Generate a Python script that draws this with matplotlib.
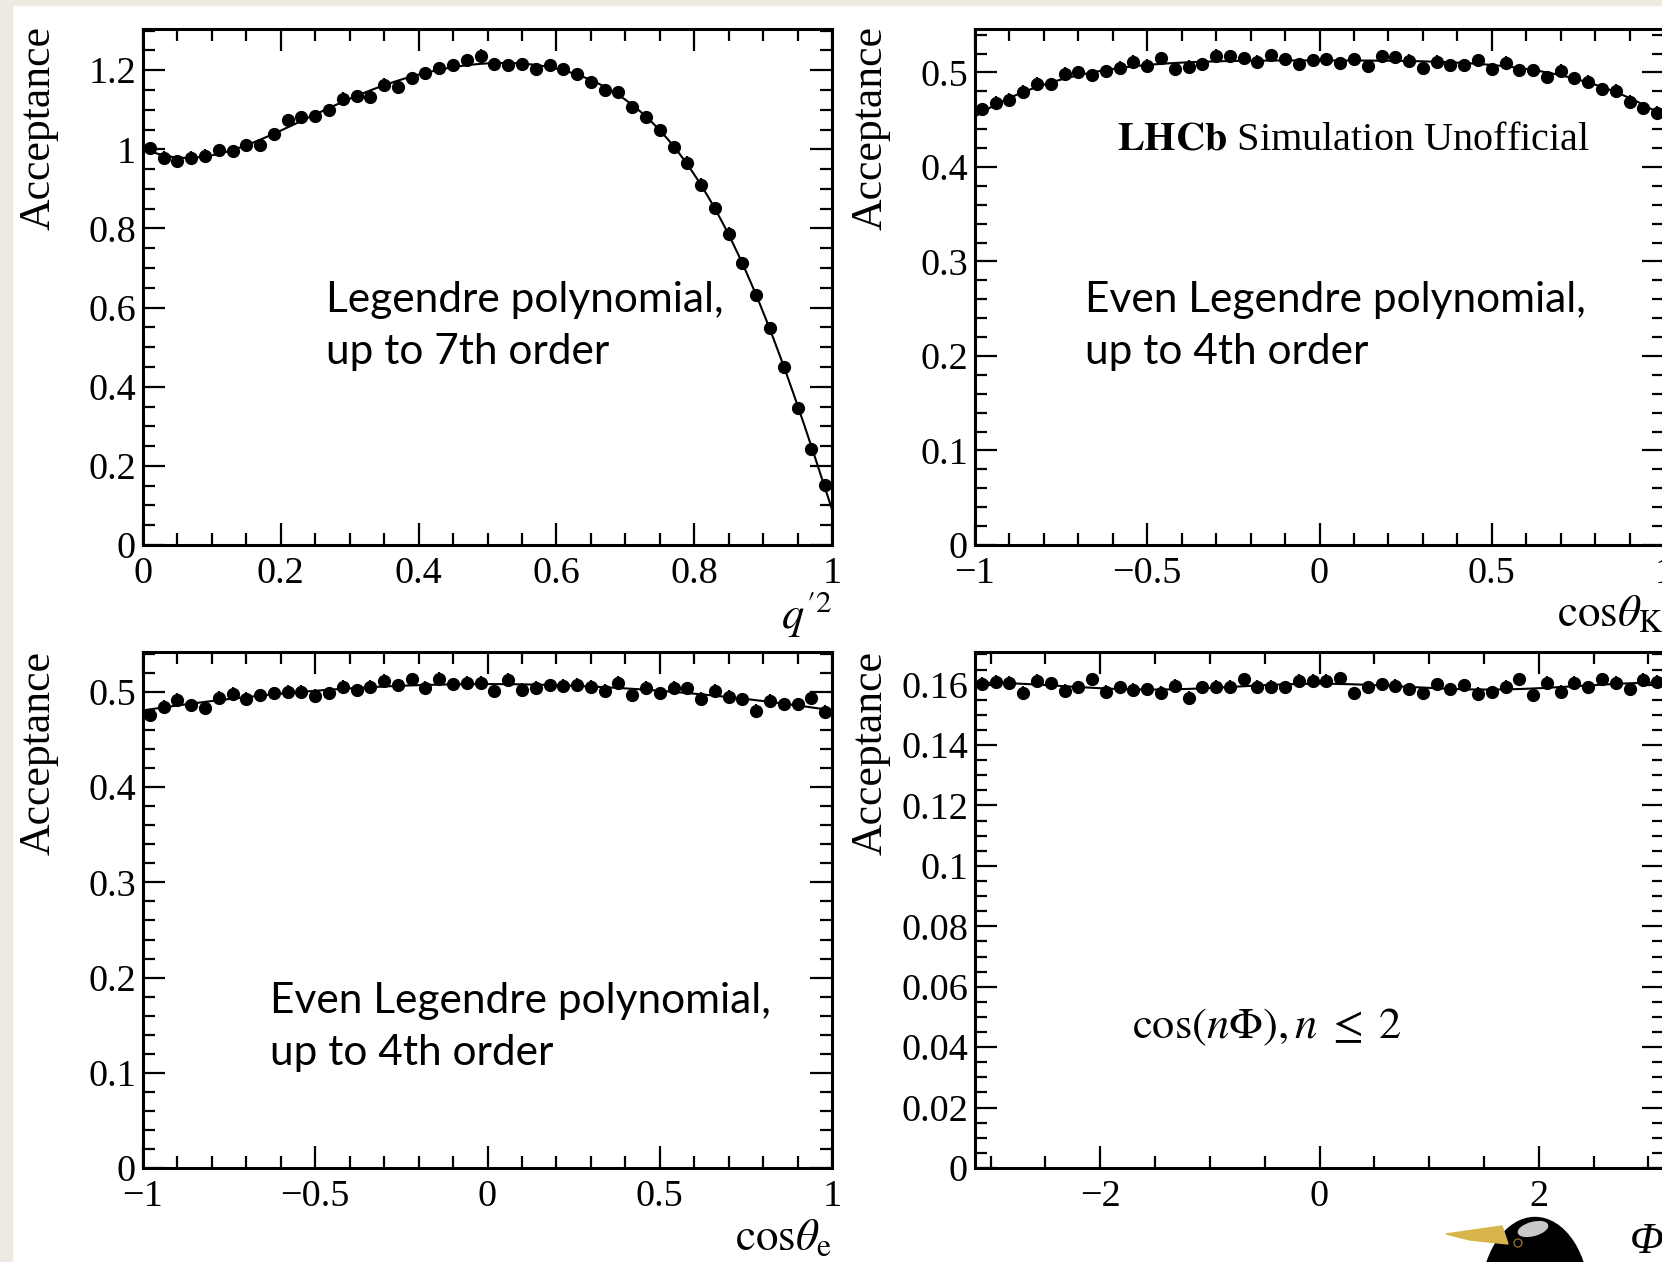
import numpy as np
import matplotlib
matplotlib.use('Agg')
import matplotlib.pyplot as plt
from matplotlib.patches import Rectangle, Ellipse, Polygon, Circle
from matplotlib.ticker import MultipleLocator, FuncFormatter

plt.rcParams['font.family'] = ['Liberation Serif', 'DejaVu Serif']
plt.rcParams['mathtext.fontset'] = 'stix'

W, H = 1662, 1262

# --- data, 50 bins per variable ---
q2_edges = np.linspace(0, 1, 51)
q2_acc = [1.003, 0.979, 0.970, 0.979, 0.984, 0.998, 0.995, 1.011, 1.011, 1.038,
          1.074, 1.081, 1.084, 1.099, 1.128, 1.135, 1.133, 1.163, 1.157, 1.180,
          1.193, 1.205, 1.212, 1.225, 1.237, 1.215, 1.212, 1.215, 1.202, 1.212,
          1.202, 1.190, 1.170, 1.150, 1.145, 1.106, 1.081, 1.049, 1.006, 0.966,
          0.911, 0.852, 0.787, 0.712, 0.632, 0.548, 0.450, 0.346, 0.242, 0.152]

ctk_edges = np.linspace(-1, 1, 51)
ctk_acc = [0.4612, 0.4679, 0.4714, 0.4795, 0.4883, 0.4876, 0.4989, 0.5000, 0.4971, 0.5014,
           0.5049, 0.5112, 0.5070, 0.5148, 0.5032, 0.5059, 0.5088, 0.5176, 0.5172, 0.5148,
           0.5112, 0.5183, 0.5138, 0.5088, 0.5130, 0.5138, 0.5095, 0.5138, 0.5067, 0.5172,
           0.5159, 0.5123, 0.5049, 0.5112, 0.5077, 0.5077, 0.5130, 0.5032, 0.5102, 0.5024,
           0.5024, 0.4947, 0.5017, 0.4937, 0.4901, 0.4820, 0.4805, 0.4689, 0.4619, 0.4572]

cte_edges = np.linspace(-1, 1, 51)
cte_acc = [0.4756, 0.4843, 0.4916, 0.4861, 0.4836, 0.4941, 0.4983, 0.4930, 0.4965, 0.4986,
           0.5000, 0.5003, 0.4958, 0.4986, 0.5052, 0.5017, 0.5056, 0.5115, 0.5070, 0.5133,
           0.5045, 0.5139, 0.5080, 0.5098, 0.5098, 0.5010, 0.5126, 0.5021, 0.5045, 0.5070,
           0.5063, 0.5073, 0.5056, 0.5010, 0.5098, 0.4969, 0.5045, 0.4986, 0.5045, 0.5038,
           0.4930, 0.5010, 0.4948, 0.4923, 0.4801, 0.4906, 0.4871, 0.4871, 0.4941, 0.4791]

phi_edges = np.linspace(-np.pi, np.pi, 51)
phi_acc = [0.1602, 0.1609, 0.1606, 0.1573, 0.1612, 0.1604, 0.1580, 0.1591, 0.1617, 0.1576,
           0.1591, 0.1582, 0.1585, 0.1573, 0.1595, 0.1556, 0.1591, 0.1593, 0.1593, 0.1618,
           0.1593, 0.1593, 0.1591, 0.1613, 0.1613, 0.1613, 0.1621, 0.1571, 0.1591, 0.1601,
           0.1595, 0.1584, 0.1571, 0.1601, 0.1585, 0.1598, 0.1569, 0.1574, 0.1593, 0.1617,
           0.1565, 0.1606, 0.1576, 0.1606, 0.1591, 0.1618, 0.1606, 0.1585, 0.1615, 0.1609]

# approximate statistical uncertainties per panel
q2_err, ctk_err, cte_err, phi_err = 0.016, 0.0070, 0.0070, 0.0022


def centers(edges):
    return 0.5 * (edges[:-1] + edges[1:])


# --- fits, as written on the plots ---
def fit_legendre(x, y, lo, hi, orders):
    t = (2 * x - (lo + hi)) / (hi - lo)
    A = np.column_stack([np.polynomial.legendre.legval(t, np.eye(max(orders) + 1)[n]) for n in orders])
    c, *_ = np.linalg.lstsq(A, y, rcond=None)
    def f(xx):
        tt = (2 * xx - (lo + hi)) / (hi - lo)
        return sum(ci * np.polynomial.legendre.legval(tt, np.eye(max(orders) + 1)[n]) for ci, n in zip(c, orders))
    return f


def fit_cos(x, y, nmax):
    A = np.column_stack([np.cos(n * x) for n in range(nmax + 1)])
    c, *_ = np.linalg.lstsq(A, y, rcond=None)
    return lambda xx: sum(ci * np.cos(n * xx) for n, ci in enumerate(c))


def fmt(v, pos):
    s = '%g' % round(v, 6)
    return s.replace('-', '\u2212')


fig = plt.figure(figsize=(W / 100, H / 100), dpi=100)
fig.patch.set_facecolor('white')


def panel(box, edges, acc, err, f, ylim, xmaj, xmin, ymaj, ymin):
    l, t, r, b = box
    ax = fig.add_axes([l / W, 1 - b / H, (r - l) / W, (b - t) / H])
    x = centers(edges)
    ax.errorbar(x, acc, yerr=err, fmt='o', color='black', ms=8.5, elinewidth=1.6, capsize=0, zorder=3)
    xx = np.linspace(edges[0], edges[-1], 400)
    ax.plot(xx, f(xx), color='black', lw=1.5, zorder=2)
    ax.set_xlim(edges[0], edges[-1])
    ax.set_ylim(*ylim)
    ax.xaxis.set_major_locator(MultipleLocator(xmaj))
    ax.xaxis.set_minor_locator(MultipleLocator(xmin))
    ax.yaxis.set_major_locator(MultipleLocator(ymaj))
    ax.yaxis.set_minor_locator(MultipleLocator(ymin))
    ax.xaxis.set_major_formatter(FuncFormatter(fmt))
    ax.yaxis.set_major_formatter(FuncFormatter(fmt))
    ax.tick_params(which='both', direction='in', top=True, right=True, width=1.6, labelsize=27.5)
    ax.tick_params(which='major', length=16)
    ax.tick_params(which='minor', length=8.5)
    ax.tick_params(axis='x', pad=8)
    ax.tick_params(axis='y', pad=5)
    for s in ax.spines.values():
        s.set_linewidth(2.2)
    return ax


x = centers(q2_edges)
panel((143, 29, 832, 545), q2_edges, q2_acc, q2_err,
      fit_legendre(x, np.array(q2_acc), 0, 1, range(8)), (0, 1.304), 0.2, 0.05, 0.2, 0.05)
x = centers(ctk_edges)
panel((975, 29, 1664, 545), ctk_edges, ctk_acc, ctk_err,
      fit_legendre(x, np.array(ctk_acc), -1, 1, [0, 2, 4]), (0, 0.546), 0.5, 0.1, 0.1, 0.02)
x = centers(cte_edges)
panel((143, 652, 832, 1168), cte_edges, cte_acc, cte_err,
      fit_legendre(x, np.array(cte_acc), -1, 1, [0, 2, 4]), (0, 0.542), 0.5, 0.1, 0.1, 0.02)
x = centers(phi_edges)
panel((975, 652, 1664, 1168), phi_edges, phi_acc, phi_err,
      fit_cos(x, np.array(phi_acc), 2), (0, 0.1708), 2, 0.5, 0.02, 0.005)

# overlay in pixel coordinates for labels and decorations
ov = fig.add_axes([0, 0, 1, 1], facecolor='none')
ov.set_xlim(0, W)
ov.set_ylim(H, 0)
ov.axis('off')

beige = '#eeeae1'
ov.add_patch(Rectangle((0, 0), W, 5, color=beige, zorder=0))
ov.add_patch(Rectangle((0, 0), 12, H, color=beige, zorder=0))

for xp, yp in [(39, 26), (871, 26), (39, 651), (871, 651)]:
    ov.text(xp, yp, 'Acceptance', rotation=90, ha='center', va='top', fontsize=31.5)

ov.text(832, 614, r"$q^{\prime 2}$", ha='right', va='center', fontsize=32)
ov.text(1664, 615, r"$\mathrm{cos}\theta_{\mathrm{K}}$", ha='right', va='center', fontsize=32.5)
ov.text(832, 1238, r"$\mathrm{cos}\theta_{\mathrm{e}}$", ha='right', va='center', fontsize=32.5)
ov.text(1664, 1242, 'Φ', ha='right', va='center', fontsize=32, style='italic')

ov.text(1117, 140, r"$\mathbf{LHCb}$ Simulation Unofficial", ha='left', va='center', fontsize=29)

sans = ['Lato', 'DejaVu Sans']
ov.text(326, 326, 'Legendre polynomial,\nup to 7th order', ha='left', va='center',
        fontsize=30.5, family=sans, linespacing=1.43)
ov.text(1085, 326, 'Even Legendre polynomial,\nup to 4th order', ha='left', va='center',
        fontsize=30.5, family=sans, linespacing=1.43)
ov.text(270, 1027, 'Even Legendre polynomial,\nup to 4th order', ha='left', va='center',
        fontsize=30.5, family=sans, linespacing=1.43)
ov.text(1132, 1027, r"$\mathrm{cos}(n\Phi), n\;\leq\;2$", ha='left', va='center', fontsize=32)

# little penguin logo in the corner
ov.add_patch(Ellipse((1535, 1300), 108, 165, color='black', zorder=5))
ov.add_patch(Polygon([(1446, 1234), (1502, 1226), (1508, 1244), (1470, 1240)],
                     closed=True, color='#d8b54a', zorder=6))
ov.add_patch(Ellipse((1533, 1229), 30, 13, angle=-15, color='#c9c9c9', zorder=6))
ov.add_patch(Circle((1518, 1243), 4, fill=False, edgecolor='#8a6a30', lw=1, zorder=6))

fig.savefig('out.png', dpi=100)
